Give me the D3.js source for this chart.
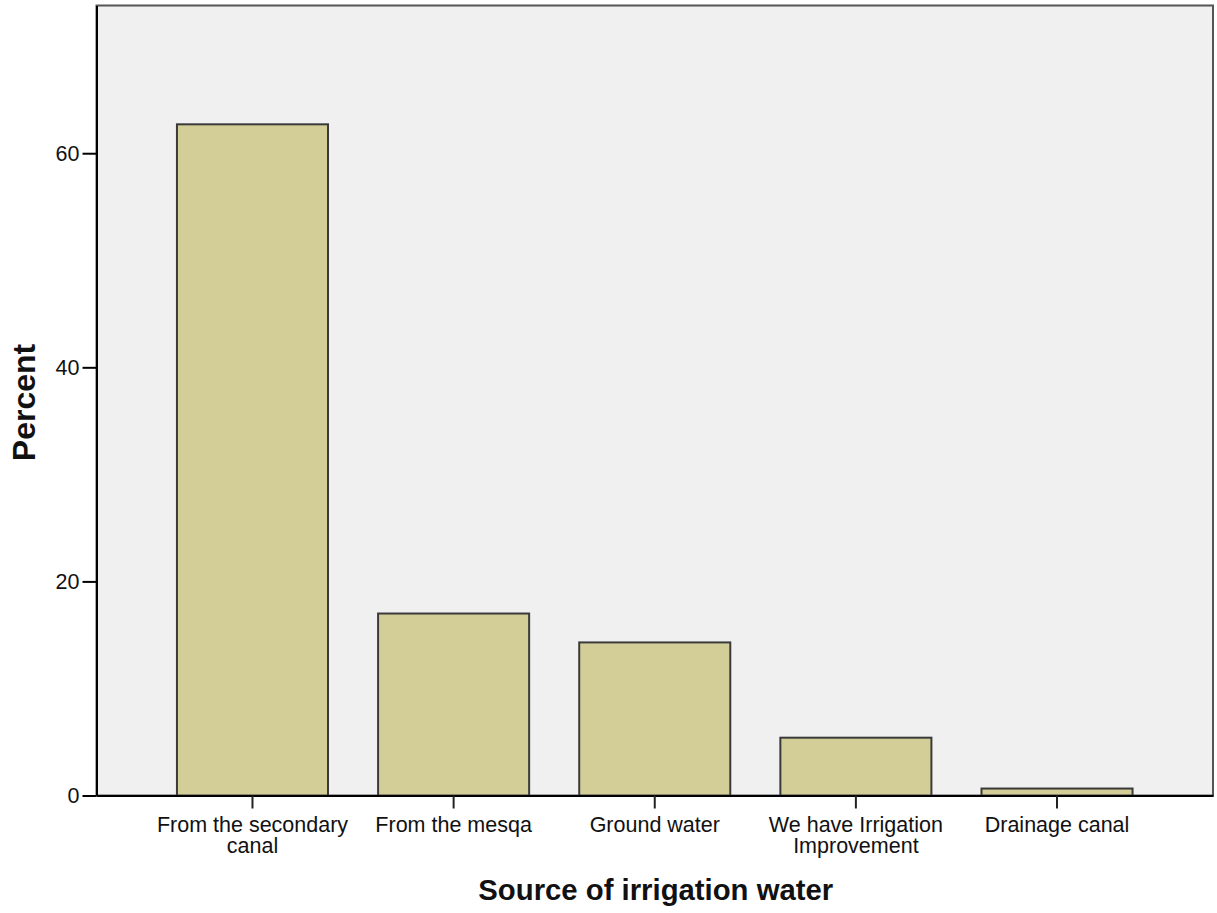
<!DOCTYPE html>
<html><head><meta charset="utf-8">
<script src="https://cdn.jsdelivr.net/npm/d3@7"></script>
<style>body{margin:0;background:#fff}svg{display:block}</style>
</head><body>
<svg id="c" width="1217" height="913"></svg>
<script>
const categories = [["From the secondary","canal"],["From the mesqa"],["Ground water"],["We have Irrigation","Improvement"],["Drainage canal"]];
const percents = [62.7, 17.0, 14.3, 5.4, 0.65];
const yTicks = [0, 20, 40, 60];
const xTitle = "Source of irrigation water";
const yTitle = "Percent";

const svg = d3.select("#c");
const L = 96.5, R = 1213, T = 5.5, B = 795.5;
const keys = categories.map((c,i)=>i);
const x = d3.scaleBand().domain(keys).range([L, R]).paddingInner(0.249).paddingOuter(0.4);
const y = d3.scaleLinear().domain([0, 73.8]).range([B, T]);

svg.append("rect").attr("x",L).attr("y",T).attr("width",R-L).attr("height",B-T)
  .attr("fill","#f0f0f0").attr("stroke","#555").attr("stroke-width",2);

svg.append("g").selectAll("rect").data(percents).join("rect")
  .attr("x",(d,i)=>x(i)).attr("y",d=>y(d))
  .attr("width",x.bandwidth()).attr("height",d=>B-y(d))
  .attr("fill","#d3ce97").attr("stroke","#3a3a3a").attr("stroke-width",2);

// y axis
const ya = svg.append("g").attr("transform",`translate(${L},0)`)
  .call(d3.axisLeft(y).tickValues(yTicks).tickSize(14).tickPadding(3).tickSizeOuter(0));
ya.select(".domain").attr("stroke","#000").attr("stroke-width",2);
ya.selectAll(".tick line").attr("stroke","#000").attr("stroke-width",2);
ya.selectAll(".tick text").attr("font-family","Liberation Sans, Arial, sans-serif").attr("font-size",21.5).attr("fill","#111");

// x axis
const xa = svg.append("g").attr("transform",`translate(0,${B})`)
  .call(d3.axisBottom(x).tickSize(13).tickSizeOuter(0).tickFormat(""));
xa.select(".domain").attr("stroke","#000").attr("stroke-width",2);
xa.selectAll(".tick line").attr("stroke","#222").attr("stroke-width",2);
xa.selectAll(".tick").each(function(d){
  const t = d3.select(this).append("text").attr("fill","#111")
    .attr("font-family","Liberation Sans, Arial, sans-serif").attr("font-size",21.5)
    .attr("text-anchor","middle");
  categories[d].forEach((line,j)=>{
    t.append("tspan").attr("x",0).attr("y",36.5+21*j).text(line);
  });
});

svg.append("text").attr("x",(L+R)/2+1).attr("y",900).attr("text-anchor","middle")
  .attr("font-family","Liberation Sans, Arial, sans-serif").attr("font-weight","bold").attr("font-size",29.3)
  .attr("fill","#111").text(xTitle);
svg.append("text").attr("transform",`translate(35,${(T+B)/2+2}) rotate(-90)`).attr("text-anchor","middle")
  .attr("font-family","Liberation Sans, Arial, sans-serif").attr("font-weight","bold").attr("font-size",32)
  .attr("fill","#111").text(yTitle);
</script>
</body></html>
